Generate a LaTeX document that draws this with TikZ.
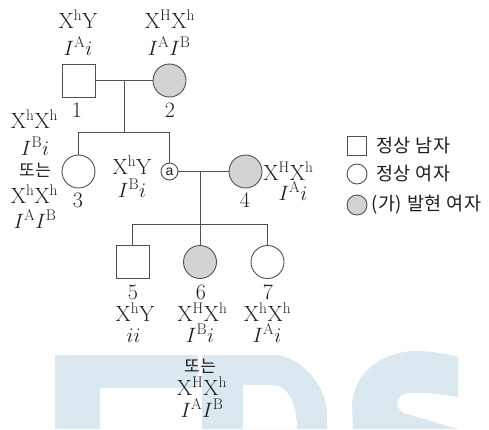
\documentclass[tikz,border=0pt]{standalone}
\usepackage{fontspec}
\newfontfamily\kr[LetterSpace=4]{Noto Sans CJK KR}
\newfontfamily\lsans{Liberation Sans}
\definecolor{wm}{RGB}{220,232,239}
\definecolor{lc}{RGB}{80,80,80}
\definecolor{af}{RGB}{211,211,211}
\definecolor{tc}{RGB}{30,30,30}
\tikzset{
 ln/.style={draw=lc, line width=0.9pt},
 malebox/.style={rectangle, draw=lc, line width=0.9pt, minimum size=33pt, inner sep=0pt, fill=white},
 fembox/.style={circle, draw=lc, line width=0.9pt, minimum size=33pt, inner sep=0pt, fill=white},
 affbox/.style={fembox, fill=af},
 smallbox/.style={circle, draw=lc, line width=0.9pt, minimum size=17pt, inner sep=0pt, fill=white, text=tc, font=\lsans\fontsize{14}{14}\selectfont},
 legsq/.style={rectangle, draw=lc, line width=0.9pt, minimum size=19pt, inner sep=0pt},
 legci/.style={circle, draw=lc, line width=0.9pt, minimum size=20pt, inner sep=0pt},
 lab/.style={font=\fontsize{22}{26}\selectfont, text=tc, inner sep=0pt, anchor=base},
 krlab/.style={font=\kr\fontsize{17}{20}\selectfont, text=tc, inner sep=0pt},
 leglab/.style={font=\kr\fontsize{18.5}{20}\selectfont, text=tc, inner sep=0pt, anchor=west},
 wmfill/.style={fill=wm, draw=none},
}
\begin{document}
\begin{tikzpicture}[x=1pt,y=-1pt]
\useasboundingbox (0,0) rectangle (489,429);
% watermark
\fill[wmfill] (55,355) rectangle (100,429);
\fill[wmfill] (55,355) rectangle (198,388);
\fill[wmfill, even odd rule] (202,429) -- (202,355) -- (273,355) .. controls (300,355) and (327,385) .. (327,415) -- (327,429) -- cycle
  (243,429) -- (243,385) -- (273,385) .. controls (287,385) and (297,402) .. (297,429) -- cycle;
\fill[wmfill] (353,429) -- (352,407) .. controls (352,375) and (380,351) .. (417,351) .. controls (432,351) and (447,354) .. (458,357) -- (458,397) .. controls (440,394) and (420,392) .. (408,393) .. controls (396,394) and (393,408) .. (404,413) -- (458,429) -- cycle;
% persons
\node[malebox] (p1) at (78.5,80.5) {};
\node[affbox] (p2) at (169.5,80.5) {};
\node[fembox] (p3) at (78.5,171.5) {};
\node[smallbox] (pa) at (169.5,171.5) {a};
\node[affbox] (p4) at (245.5,171.5) {};
\node[malebox] (p5) at (132.5,262) {};
\node[affbox] (p6) at (200,262) {};
\node[fembox] (p7) at (267.5,262) {};
% connectors
\coordinate (m12) at (124,80.5);
\coordinate (s12) at (124,132);
\coordinate (sa) at (169.5,132);
\draw[ln] (p1.east) -- (p2.west);
\draw[ln] (m12) -- (s12);
\draw[ln] (p3.north) |- (sa) -- (pa.north);
\coordinate (m34) at (200,171.5);
\coordinate (s34) at (200,224);
\coordinate (s7) at (267.5,224);
\draw[ln] (pa.east) -- (p4.west);
\draw[ln] (m34) -- (s34);
\draw[ln] (p5.north) |- (s7) -- (p7.north);
\draw[ln] (s34) -- (p6.north);
% labels generation I
\node[lab] (t1a) at (78,28) {$\mathrm{X^hY}$};
\node[lab] (t1b) at (78,55) {$I^{\mathrm{A}}i$};
\node[lab] (n1) at (77,117) {1};
\node[lab] (t2a) at (170,28) {$\mathrm{X^HX^h}$};
\node[lab] (t2b) at (169,55) {$I^{\mathrm{A}}I^{\mathrm{B}}$};
\node[lab] (n2) at (170,117) {2};
% person 3
\node[lab] (t3a) at (34.5,128) {$\mathrm{X^hX^h}$};
\node[lab] (t3b) at (35,155) {$I^{\mathrm{B}}i$};
\node[krlab] (t3c) at (35,170) {또는};
\node[lab] (t3d) at (34.5,203) {$\mathrm{X^hX^h}$};
\node[lab] (t3e) at (35,228) {$I^{\mathrm{A}}I^{\mathrm{B}}$};
\node[lab] (n3) at (78,207) {3};
% person a
\node[lab] (taa) at (132,174) {$\mathrm{X^hY}$};
\node[lab] (tab) at (132,197) {$I^{\mathrm{B}}i$};
% person 4
\node[lab] (n4) at (245,207) {4};
\node[lab] (t4a) at (288.5,180) {$\mathrm{X^HX^h}$};
\node[lab] (t4b) at (293,200) {$I^{\mathrm{A}}i$};
% children
\node[lab] (n5) at (133,299) {5};
\node[lab] (n6) at (201,299) {6};
\node[lab] (n7) at (268,299) {7};
\node[lab] (t5a) at (135,321) {$\mathrm{X^hY}$};
\node[lab] (t5b) at (133.5,342) {$ii$};
\node[lab] (t6a) at (202.5,321) {$\mathrm{X^HX^h}$};
\node[lab] (t6b) at (200,342) {$I^{\mathrm{B}}i$};
\node[krlab] (t6c) at (200,366) {또는};
\node[lab] (t6d) at (202,395) {$\mathrm{X^HX^h}$};
\node[lab] (t6e) at (202,417) {$I^{\mathrm{A}}I^{\mathrm{B}}$};
\node[lab] (t7a) at (267.5,321) {$\mathrm{X^hX^h}$};
\node[lab] (t7b) at (267,342) {$I^{\mathrm{A}}i$};
% legend
\node[legsq] (lg1) at (357,146) {};
\node[legci] (lg2) at (357,174) {};
\node[legci, fill=af] (lg3) at (357,205) {};
\node[leglab] (lt1) at (376,146) {정상 남자};
\node[leglab] (lt2) at (376,174) {정상 여자};
\node[leglab] (lt3) at (371,205) {(가) 발현 여자};
\end{tikzpicture}
\end{document}
